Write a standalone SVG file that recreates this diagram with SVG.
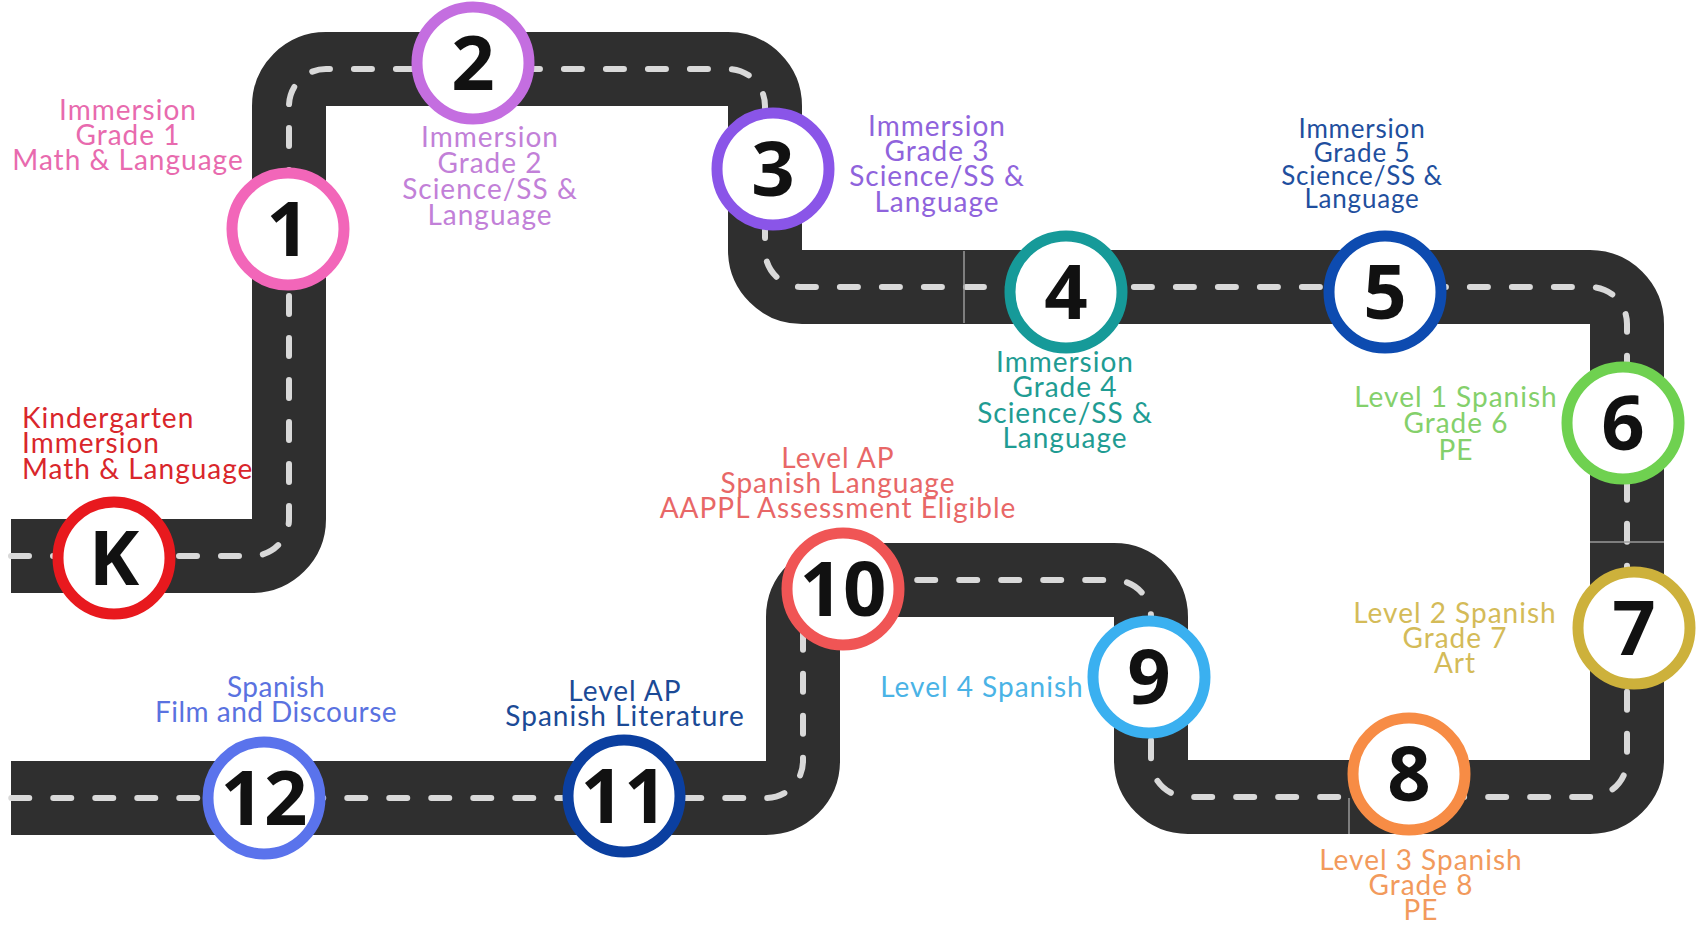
<svg xmlns="http://www.w3.org/2000/svg" width="1699" height="930" viewBox="0 0 1699 930">
<style>
.road{fill:none;stroke:#2f2f2f;stroke-width:74;stroke-linejoin:round}
.lane{fill:none;stroke:#d9d9d9;stroke-width:6;stroke-linecap:round;stroke-dasharray:18 24}
.seam{stroke:#9a9a9a;stroke-width:1.5}
.ring{fill:#ffffff;stroke-width:11}
.num{font-family:"Open Sans","DejaVu Sans",sans-serif;font-weight:700;font-size:76px;fill:#111111;text-anchor:middle}
.lbl{font-family:Lato,"Liberation Sans",sans-serif;font-size:28px;letter-spacing:1px;text-anchor:middle}
</style>
<rect width="1699" height="930" fill="#ffffff"/>
<g id="connectors">
<path class="road" d="M 11 556 H 252 A 37 37 0 0 0 289 519 V 106 A 37 37 0 0 1 326 69 H 728 A 37 37 0 0 1 765 106 V 250 A 37 37 0 0 0 802 287 H 1590 A 37 37 0 0 1 1627 324 V 760 A 37 37 0 0 1 1590 797 H 1188 A 37 37 0 0 1 1151 760 V 617 A 37 37 0 0 0 1114 580 H 840 A 37 37 0 0 0 803 617 V 761 A 37 37 0 0 1 766 798 H 11"/>
<path class="lane" d="M 11 556 H 252 A 37 37 0 0 0 289 519 V 106 A 37 37 0 0 1 326 69 H 728 A 37 37 0 0 1 765 106 V 250 A 37 37 0 0 0 802 287 H 1590 A 37 37 0 0 1 1627 324 V 760 A 37 37 0 0 1 1590 797 H 1188 A 37 37 0 0 1 1151 760 V 617 A 37 37 0 0 0 1114 580 H 840 A 37 37 0 0 0 803 617 V 761 A 37 37 0 0 1 766 798 H 11"/>
<line class="seam" x1="964" y1="251" x2="964" y2="323"/>
<line class="seam" x1="1590" y1="542" x2="1664" y2="542"/>
<line class="seam" x1="1349" y1="798" x2="1349" y2="834"/>
</g>
<g id="node-K">
<circle class="ring" cx="114" cy="558" r="56" stroke="#e8191e"/>
<text class="num" x="114" y="585">K</text>
<text class="lbl" fill="#d9262b" style="text-anchor:start"><tspan x="22" y="428">Kindergarten</tspan><tspan x="22" y="453">Immersion</tspan><tspan x="22" y="479">Math &amp; Language</tspan></text>
</g>
<g id="node-1">
<circle class="ring" cx="288" cy="229" r="56" stroke="#f266b9"/>
<text class="num" x="288" y="256">1</text>
<text class="lbl" fill="#e86aae"><tspan x="128" y="120">Immersion</tspan><tspan x="128" y="145">Grade 1</tspan><tspan x="128" y="170">Math &amp; Language</tspan></text>
</g>
<g id="node-2">
<circle class="ring" cx="473" cy="63" r="56" stroke="#c46ee0"/>
<text class="num" x="473" y="90">2</text>
<text class="lbl" fill="#c280d8"><tspan x="490" y="147">Immersion</tspan><tspan x="490" y="173">Grade 2</tspan><tspan x="490" y="199">Science/SS &amp;</tspan><tspan x="490" y="225">Language</tspan></text>
</g>
<g id="node-3">
<circle class="ring" cx="773" cy="169" r="56" stroke="#8a55e8"/>
<text class="num" x="773" y="196">3</text>
<text class="lbl" fill="#8f63dc"><tspan x="937" y="136">Immersion</tspan><tspan x="937" y="161">Grade 3</tspan><tspan x="937" y="186">Science/SS &amp;</tspan><tspan x="937" y="212">Language</tspan></text>
</g>
<g id="node-4">
<circle class="ring" cx="1066" cy="292" r="56" stroke="#169a99"/>
<text class="num" x="1066" y="319">4</text>
<text class="lbl" fill="#1f9c93"><tspan x="1065" y="372">Immersion</tspan><tspan x="1065" y="397">Grade 4</tspan><tspan x="1065" y="423">Science/SS &amp;</tspan><tspan x="1065" y="448">Language</tspan></text>
</g>
<g id="node-5">
<circle class="ring" cx="1385" cy="292" r="56" stroke="#0d4bb0"/>
<text class="num" x="1385" y="319">5</text>
<text class="lbl" fill="#1f4f9e" style="font-size:26px;letter-spacing:0.8px"><tspan x="1362" y="138">Immersion</tspan><tspan x="1362" y="162">Grade 5</tspan><tspan x="1362" y="185">Science/SS &amp;</tspan><tspan x="1362" y="208">Language</tspan></text>
</g>
<g id="node-6">
<circle class="ring" cx="1623" cy="423" r="56" stroke="#6fd150"/>
<text class="num" x="1623" y="450">6</text>
<text class="lbl" fill="#84d06b"><tspan x="1456" y="407">Level 1 Spanish</tspan><tspan x="1456" y="433">Grade 6</tspan><tspan x="1456" y="460">PE</tspan></text>
</g>
<g id="node-7">
<circle class="ring" cx="1634" cy="628" r="56" stroke="#cdb13b"/>
<text class="num" x="1634" y="655">7</text>
<text class="lbl" fill="#d4bb58"><tspan x="1455" y="623">Level 2 Spanish</tspan><tspan x="1455" y="648">Grade 7</tspan><tspan x="1455" y="673">Art</tspan></text>
</g>
<g id="node-8">
<circle class="ring" cx="1409" cy="774" r="56" stroke="#f78c45"/>
<text class="num" x="1409" y="801">8</text>
<text class="lbl" fill="#f29a5c"><tspan x="1421" y="870">Level 3 Spanish</tspan><tspan x="1421" y="895">Grade 8</tspan><tspan x="1421" y="920">PE</tspan></text>
</g>
<g id="node-9">
<circle class="ring" cx="1149" cy="677" r="56" stroke="#3ab0f0"/>
<text class="num" x="1149" y="704">9</text>
<text class="lbl" fill="#4ab3e6"><tspan x="982" y="697">Level 4 Spanish</tspan></text>
</g>
<g id="node-10">
<circle class="ring" cx="843" cy="589" r="56" stroke="#f05555"/>
<text class="num" x="843" y="616">10</text>
<text class="lbl" fill="#e86767"><tspan x="838" y="468">Level AP</tspan><tspan x="838" y="493">Spanish Language</tspan><tspan x="838" y="518">AAPPL Assessment Eligible</tspan></text>
</g>
<g id="node-11">
<circle class="ring" cx="624" cy="796" r="56" stroke="#0b3fa0"/>
<text class="num" x="624" y="823">11</text>
<text class="lbl" fill="#1b4a96"><tspan x="625" y="701">Level AP</tspan><tspan x="625" y="726">Spanish Literature</tspan></text>
</g>
<g id="node-12">
<circle class="ring" cx="264" cy="798" r="56" stroke="#5a73ec"/>
<text class="num" x="264" y="825">12</text>
<text class="lbl" fill="#5a72e0" style="letter-spacing:0.5px"><tspan x="276" y="697">Spanish</tspan><tspan x="276" y="722">Film and Discourse</tspan></text>
</g>
</svg>
